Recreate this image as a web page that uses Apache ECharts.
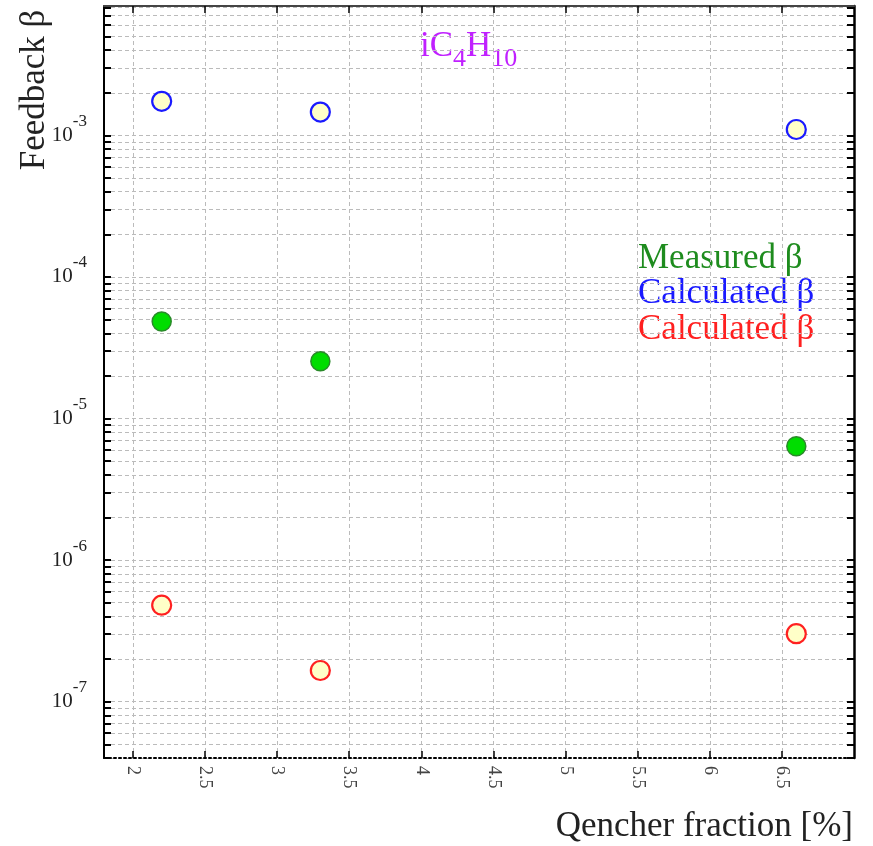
<!DOCTYPE html>
<html>
<head>
<meta charset="utf-8">
<script src="https://cdn.jsdelivr.net/npm/echarts@6/dist/echarts.min.js"></script>
<style>html,body{margin:0;padding:0;background:#fff}#c{width:873px;height:846px}</style>
</head>
<body>
<div id="c"></div>
<script>
// ---- data ----
const quencherFraction = [2.2, 3.3, 6.6];
const measuredBeta = [4.84e-5, 2.54e-5, 6.37e-6];
const calculatedBetaBlue = [1.74e-3, 1.46e-3, 1.10e-3];
const calculatedBetaRed = [4.80e-7, 1.66e-7, 3.02e-7];
const xTickValues = [2, 2.5, 3, 3.5, 4, 4.5, 5, 5.5, 6, 6.5];
const yLabelExponents = [-7, -6, -5, -4, -3];
const legendTexts = ['Measured β', 'Calculated β', 'Calculated β'];

const X_MIN = 1.8, X_MAX = 7.0;
const Y_MIN = 4e-8, Y_MAX = 8.2e-3;

// tick positions of the log axis: k * 10^n
const yTickValues = [];
for (let n = -8; n <= -3; n++) {
  for (let k = 1; k <= 9; k++) {
    const v = k * Math.pow(10, n);
    if (v >= Y_MIN && v <= Y_MAX) yTickValues.push(v);
  }
}
const yLabelValues = yLabelExponents.map(e => Math.pow(10, e));

const pairs = (xs, ys) => xs.map((x, i) => [x, ys[i]]);
const SERIF = '"Liberation Serif", "DejaVu Serif", serif';
const PURPLE = '#c020ff';

const chart = echarts.init(document.getElementById('c'), null, {renderer: 'canvas'});
chart.setOption({
  animation: false,
  backgroundColor: '#fff',
  grid: {left: 104, right: 19, top: 6, bottom: 88, containLabel: false},
  xAxis: [{
    type: 'value', min: X_MIN, max: X_MAX, position: 'bottom',
    axisLine: {onZero: false, lineStyle: {color: '#000', width: 2, type: [2, 3]}},
    axisTick: {inside: true, length: 7, customValues: xTickValues, lineStyle: {color: '#000', width: 1.5}},
    axisLabel: {customValues: xTickValues, rotate: -90, margin: 8, color: '#444',
      fontFamily: SERIF, fontSize: 18, formatter: v => String(v)},
    splitLine: {show: true, lineStyle: {color: '#bbb', type: [4, 3], width: 1}}
  }, {
    type: 'value', min: X_MIN, max: X_MAX, position: 'top',
    axisLine: {onZero: false, lineStyle: {color: '#444', width: 2}},
    axisTick: {inside: true, length: 7, customValues: xTickValues, lineStyle: {color: '#000', width: 1.5}},
    axisLabel: {show: false},
    splitLine: {show: false}
  }],
  yAxis: [{
    type: 'log', logBase: 10, min: Y_MIN, max: Y_MAX, position: 'left',
    axisLine: {onZero: false, lineStyle: {color: '#000', width: 2}},
    axisTick: {inside: true, length: 7, customValues: yTickValues, lineStyle: {color: '#000', width: 2}},
    axisLabel: {
      customValues: yLabelValues, margin: 17, color: '#222',
      formatter: v => '{b|10}{s|' + Math.round(Math.log10(v)) + '}',
      rich: {
        b: {fontFamily: SERIF, fontSize: 21, lineHeight: 21, padding: [12, 0, 12, 0], color: '#222'},
        s: {fontFamily: SERIF, fontSize: 17, lineHeight: 17, padding: [0, 0, 28, 0], color: '#222'}
      }
    },
    splitLine: {show: true, lineStyle: {color: '#bbb', type: [4, 3], width: 1}}
  }, {
    type: 'log', logBase: 10, min: Y_MIN, max: Y_MAX, position: 'right',
    axisLine: {onZero: false, lineStyle: {color: '#000', width: 2.5}},
    axisTick: {inside: true, length: 7, customValues: yTickValues, lineStyle: {color: '#000', width: 2}},
    axisLabel: {show: false},
    splitLine: {show: false}
  }],
  series: [{
    name: 'Calculated β (blue)', type: 'scatter', symbol: 'circle', symbolSize: 19,
    data: pairs(quencherFraction, calculatedBetaBlue),
    itemStyle: {color: '#ffffc8', borderColor: '#1a1aff', borderWidth: 2.2, opacity: 1}
  }, {
    name: 'Measured β', type: 'scatter', symbol: 'circle', symbolSize: 19,
    data: pairs(quencherFraction, measuredBeta),
    itemStyle: {color: '#00dd00', borderColor: '#2a8a2a', borderWidth: 1.5, opacity: 1}
  }, {
    name: 'Calculated β (red)', type: 'scatter', symbol: 'circle', symbolSize: 19,
    data: pairs(quencherFraction, calculatedBetaRed),
    itemStyle: {color: '#ffffc8', borderColor: '#ff2020', borderWidth: 2.2, opacity: 1}
  }],
  graphic: [{
    type: 'text', x: 35, y: 90, rotation: Math.PI / 2,
    style: {text: 'Feedback β', font: '35px ' + SERIF, fill: '#222', align: 'center', verticalAlign: 'middle'}
  }, {
    type: 'text', x: 853, y: 827,
    style: {text: 'Qencher fraction [%]', font: '35px ' + SERIF, fill: '#222', align: 'right', verticalAlign: 'middle'}
  }, {
    type: 'text', x: 638, y: 259,
    style: {text: legendTexts[0], font: '35px ' + SERIF, fill: '#1e8c1e', align: 'left', verticalAlign: 'middle'}
  }, {
    type: 'text', x: 638, y: 294,
    style: {text: legendTexts[1], font: '35px ' + SERIF, fill: '#1a1aff', align: 'left', verticalAlign: 'middle'}
  }, {
    type: 'text', x: 638, y: 330,
    style: {text: legendTexts[2], font: '35px ' + SERIF, fill: '#ff2020', align: 'left', verticalAlign: 'middle'}
  }, {
    type: 'text', x: 420, y: 33,
    style: {
      text: '{m|iC}{s|4}{m|H}{s|10}',
      fill: PURPLE,
      rich: {
        m: {fontFamily: SERIF, fontSize: 35, lineHeight: 35, padding: [0, 0, 8, 0], fill: PURPLE},
        s: {fontFamily: SERIF, fontSize: 26, lineHeight: 26, padding: [17, 0, 0, 0], fill: PURPLE}
      }
    }
  }]
});
</script>
</body>
</html>
